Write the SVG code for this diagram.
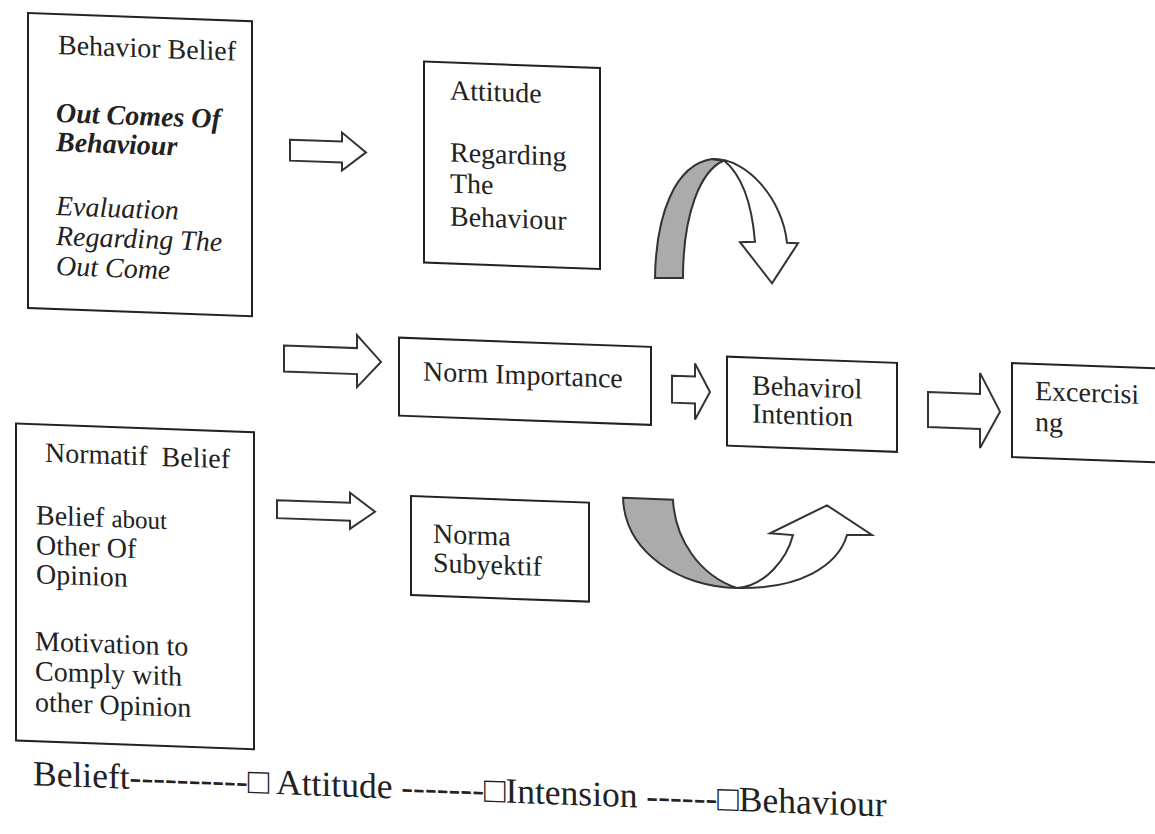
<svg xmlns="http://www.w3.org/2000/svg" width="1155" height="834" viewBox="0 0 1155 834">
<style>
.box{fill:#fff;stroke:#222;stroke-width:2}
.blk{fill:#fff;stroke:#333;stroke-width:2;stroke-linejoin:miter}
.gray{fill:#ababab;stroke:#333;stroke-width:2}
.t{font-family:"Liberation Serif","Times New Roman",serif;font-size:28px;fill:#222}
.it{font-style:italic}
.bi{font-style:italic;font-weight:bold}
.cap{font-family:"Liberation Serif","Times New Roman",serif;font-size:35.5px;fill:#222}
</style>
<rect width="1155" height="834" fill="#fff"/>
<g transform="skewY(2.1)">
  <g id="connectors">
    <polygon class="blk" points="290,129 342,129 342,120 366,139 342,158 342,150 290,150"/>
    <polygon class="blk" points="284,335 357,335 357,322 381,348 357,374 357,361 284,361"/>
    <polygon class="blk" points="277,490 350,490 350,480 375,498 350,516 350,508 277,508"/>
    <polygon class="blk" points="672,351 695,351 695,338 710,366 695,394 695,378 672,378"/>
    <polygon class="blk" points="928,358 980,358 980,337 1000,375 980,412 980,393 928,393"/>
    <g id="curve-top">
      <path class="gray" d="M655,254 C656,190 675,140 712,133 L724,134 C700,145 683,190 683,253 Z"/>
      <path class="blk" d="M712,133 C748,130 783,172 787,214 L798,214 L772,255 L740,215 L755,214 C752,178 742,148 724,134 Z"/>
    </g>
    <g id="curve-bottom">
      <path class="gray" d="M623,475 L673,475 C675,515 700,550 737,561 C680,562 625,530 623,475 Z"/>
      <path class="blk" d="M737,561 C765,558 787,530 793,506 L770,505 L827,475 L872,503 L847,504 C838,535 800,560 737,561 Z"/>
    </g>
  </g>
  <g id="n-behavior-belief">
    <rect class="box" x="28" y="12" width="224" height="295"/>
    <text class="t" x="58" y="52">Behavior Belief</text>
    <text class="t bi" x="56" y="120">Out Comes Of</text>
    <text class="t bi" x="56" y="149">Behaviour</text>
    <text class="t it" x="56" y="213">Evaluation</text>
    <text class="t it" x="56" y="243">Regarding The</text>
    <text class="t it" x="56" y="273">Out Come</text>
  </g>
  <g id="n-attitude">
    <rect class="box" x="424" y="46" width="176" height="201"/>
    <text class="t" x="450" y="83">Attitude</text>
    <text class="t" x="450" y="145">Regarding</text>
    <text class="t" x="450" y="176">The</text>
    <text class="t" x="450" y="209">Behaviour</text>
  </g>
  <g id="n-norm-importance">
    <rect class="box" x="399" y="323" width="252" height="78"/>
    <text class="t" x="423" y="365">Norm Importance</text>
  </g>
  <g id="n-behavioral-intention">
    <rect class="box" x="727" y="330" width="170" height="89"/>
    <text class="t" x="752" y="367">Behavirol</text>
    <text class="t" x="752" y="395">Intention</text>
  </g>
  <g id="n-excercising">
    <rect class="box" x="1012" y="326" width="160" height="94"/>
    <text class="t" x="1035" y="362">Excercisi</text>
    <text class="t" x="1035" y="393">ng</text>
  </g>
  <g id="n-normatif-belief">
    <rect class="box" x="16" y="423" width="238" height="317"/>
    <text class="t" x="45" y="460" xml:space="preserve">Normatif  Belief</text>
    <text class="t" x="36" y="523">Belief <tspan font-size="25">about</tspan></text>
    <text class="t" x="36" y="553">Other Of</text>
    <text class="t" x="36" y="582">Opinion</text>
    <text class="t" x="35" y="649">Motivation to</text>
    <text class="t" x="35" y="679">Comply with</text>
    <text class="t" x="35" y="710">other Opinion</text>
  </g>
  <g id="n-norma-subyektif">
    <rect class="box" x="411" y="481" width="178" height="99"/>
    <text class="t" x="433" y="527">Norma</text>
    <text class="t" x="433" y="556">Subyektif</text>
  </g>
  <text class="cap" x="33" y="784">Belieft----------□ Attitude -------□Intension ------□Behaviour</text>
</g>
</svg>
